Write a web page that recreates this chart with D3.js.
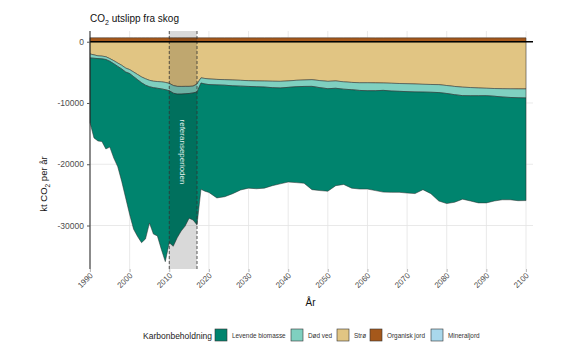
<!DOCTYPE html>
<html>
<head>
<meta charset="utf-8">
<script src="https://cdn.jsdelivr.net/npm/d3@7"></script>
<style>
  body { margin: 0; background: #fff; }
  text { font-family: "Liberation Sans", Arial, sans-serif; }
</style>
</head>
<body>
<div id="container"></div>
<script>
/* DATA */
const years = [
  1990, 1991, 1992, 1993, 1994, 1995, 1996, 1997, 1998, 1999,
  2000, 2001, 2002, 2003, 2004, 2005, 2006, 2007, 2008, 2009,
  2010, 2011, 2012, 2013, 2014, 2015, 2016, 2017, 2018, 2019, 2020,
  2022, 2024, 2026, 2028, 2030, 2032, 2034, 2036, 2038, 2040,
  2042, 2044, 2046, 2048, 2050, 2052, 2054, 2056, 2058, 2060,
  2062, 2064, 2066, 2068, 2070, 2072, 2074, 2076, 2078, 2080,
  2082, 2084, 2086, 2088, 2090, 2092, 2094, 2096, 2098, 2100
];

const levendeBiomasse = [
  -10550, -13000, -13450, -13500, -14600, -14000, -15400, -16370, -18350, -20550,
  -23000, -24900, -25600, -26100, -25100, -22250, -23900, -24100, -26200, -28070,
  -24800, -25000, -23450, -22350, -21600, -20350, -20730, -21700, -17350, -17500, -17600,
  -18450, -18200, -17600, -16950, -16600, -16650, -16500, -16000, -15650, -15450,
  -15650, -15800, -16860, -16800, -16730, -15900, -15550, -16070, -16100, -16050,
  -16300, -16610, -16530, -16480, -16550, -16590, -15930, -16550, -17700, -17970,
  -17550, -16900, -17180, -17490, -17500, -17100, -16780, -16700, -16800, -16750
];

const dodVed = [
  -650, -550, -450, -450, -450, -450, -500, -550, -600, -650,
  -650, -750, -850, -950, -1050, -1050, -1050, -1100, -1150, -1190,
  -1200, -1250, -1260, -1250, -1210, -1160, -1120, -1300, -850, -900, -920,
  -900, -900, -950, -950, -940, -950, -980, -1050, -1080, -1050,
  -1050, -1050, -1090, -1150, -1200, -1200, -1200, -1190, -1250, -1300,
  -1280, -1200, -1270, -1280, -1290, -1300, -1270, -1270, -1290, -1300,
  -1350, -1380, -1340, -1270, -1210, -1260, -1350, -1410, -1450, -1470
];

const stro = [
  -2000, -2150, -2300, -2350, -2450, -2750, -3100, -3480, -3850, -4300,
  -4550, -4950, -5350, -5750, -6050, -6300, -6450, -6500, -6550, -6640,
  -6800, -7150, -7290, -7300, -7290, -7290, -7250, -6900, -5900, -6000, -6080,
  -6150, -6200, -6250, -6300, -6360, -6400, -6420, -6450, -6470, -6400,
  -6300, -6250, -6200, -6350, -6470, -6400, -6550, -6640, -6700, -6700,
  -6720, -6740, -6780, -6820, -6860, -6900, -6950, -6980, -7010, -7150,
  -7300, -7420, -7480, -7550, -7600, -7640, -7670, -7690, -7700, -7710
];

const organiskJord = [
  620, 620, 620, 620, 620, 620, 620, 620, 620, 620,
  620, 620, 620, 620, 620, 620, 620, 620, 620, 620,
  620, 620, 620, 620, 620, 620, 620, 620, 610, 610, 610,
  610, 610, 610, 610, 610, 610, 610, 610, 610, 610,
  610, 610, 610, 610, 610, 610, 610, 610, 610, 610,
  600, 600, 600, 600, 600, 600, 600, 600, 600, 600,
  600, 600, 600, 600, 600, 600, 600, 600, 600, 600
];

const mineraljord = [
  30, 30, 30, 30, 30, 30, 30, 30, 30, 30,
  30, 30, 30, 30, 30, 30, 30, 30, 30, 30,
  30, 30, 30, 30, 30, 30, 30, 30, 30, 30, 30,
  30, 30, 30, 30, 30, 30, 30, 30, 30, 30,
  30, 30, 30, 30, 30, 30, 30, 30, 30, 30,
  30, 30, 30, 30, 30, 30, 30, 30, 30, 30,
  30, 30, 30, 30, 30, 30, 30, 30, 30, 30
];

const legendLabels = ["Levende biomasse", "Død ved", "Strø", "Organisk jord", "Mineraljord"];
const colors = ["#00846e", "#7fd0c0", "#e1c583", "#a5581b", "#a9d8ec"];
const xTicks = [1990, 2000, 2010, 2020, 2030, 2040, 2050, 2060, 2070, 2080, 2090, 2100];
const yTicks = [0, -10000, -20000, -30000];
const refPeriod = [2010, 2017];

/* CONSTANTS */
const width = 571, height = 352;
const panel = {left: 90, right: 533, top: 31, bottom: 269};

const rows = years.map((yr, i) => ({
  year: yr,
  "Mineraljord": mineraljord[i],
  "Organisk jord": organiskJord[i],
  "Strø": stro[i],
  "Død ved": dodVed[i],
  "Levende biomasse": levendeBiomasse[i]
}));

const stackKeys = ["Mineraljord", "Organisk jord", "Strø", "Død ved", "Levende biomasse"];
const colorScale = d3.scaleOrdinal().domain(legendLabels).range(colors);

const xScale = d3.scaleLinear()
  .domain([1990, 2100])
  .range([panel.left, 526]);

const yScale = d3.scaleLinear()
  .domain([1750, -37100])
  .range([panel.top, panel.bottom]);

const svg = d3.select("#container")
  .append("svg")
  .attr("width", width)
  .attr("height", height);

// gridlines
svg.append("g")
  .selectAll("line")
  .data(xTicks)
  .join("line")
  .attr("x1", d => xScale(d)).attr("x2", d => xScale(d))
  .attr("y1", panel.top).attr("y2", panel.bottom + 3)
  .attr("stroke", "#e3e3e3").attr("stroke-width", 0.8);

svg.append("g")
  .selectAll("line")
  .data(yTicks)
  .join("line")
  .attr("x1", panel.left).attr("x2", panel.right)
  .attr("y1", d => yScale(d)).attr("y2", d => yScale(d))
  .attr("stroke", "#e3e3e3").attr("stroke-width", 0.8);

// stacked areas
const series = d3.stack()
  .keys(stackKeys)
  .offset(d3.stackOffsetDiverging)
  .order(d3.stackOrderNone)(rows);

const area = d3.area()
  .x(d => xScale(d.data.year))
  .y0(d => yScale(d[0]))
  .y1(d => yScale(d[1]));

svg.append("g")
  .selectAll("path")
  .data(series)
  .join("path")
  .attr("d", area)
  .attr("fill", d => colorScale(d.key))
  .attr("stroke", "#2b2b2b")
  .attr("stroke-width", 0.5);

// reference period
svg.append("rect")
  .attr("x", xScale(refPeriod[0]))
  .attr("width", xScale(refPeriod[1]) - xScale(refPeriod[0]))
  .attr("y", panel.top)
  .attr("height", panel.bottom - panel.top)
  .attr("fill", "#000")
  .attr("opacity", 0.15);

svg.append("g")
  .selectAll("line")
  .data(refPeriod)
  .join("line")
  .attr("x1", d => xScale(d)).attr("x2", d => xScale(d))
  .attr("y1", panel.top).attr("y2", panel.bottom)
  .attr("stroke", "#333").attr("stroke-width", 0.8)
  .attr("stroke-dasharray", "3,2");

svg.append("text")
  .attr("transform", `translate(${xScale(d3.mean(refPeriod)) - 3}, 152) rotate(90)`)
  .attr("text-anchor", "middle")
  .attr("font-size", 8)
  .attr("fill", "#e3efec")
  .text("referanseperioden");

// zero line
svg.append("line")
  .attr("x1", panel.left).attr("x2", panel.right)
  .attr("y1", yScale(0)).attr("y2", yScale(0))
  .attr("stroke", "#000").attr("stroke-width", 1.4);

// axes
const yAxis = d3.axisLeft(yScale).tickValues(yTicks).tickSize(3).tickFormat(d3.format("d"));
const yAxisGroup = svg.append("g")
  .attr("transform", `translate(${panel.left}, 0)`)
  .call(yAxis);
yAxisGroup.select(".domain").attr("d", `M0,${panel.top}V${panel.bottom}`).attr("stroke", "#222").attr("stroke-width", 1);
yAxisGroup.selectAll(".tick line").attr("stroke", "#555");
yAxisGroup.selectAll(".tick text")
  .attr("font-family", "Liberation Sans, Arial, sans-serif")
  .attr("font-size", 8.5).attr("fill", "#4d4d4d")
  .text(d => d === 0 ? "0" : "-" + Math.abs(d));

const xAxis = d3.axisBottom(xScale).tickValues(xTicks).tickSize(3).tickFormat(d3.format("d"));
const xAxisGroup = svg.append("g")
  .attr("transform", `translate(0, ${panel.bottom})`)
  .call(xAxis);
xAxisGroup.select(".domain").remove();
xAxisGroup.selectAll(".tick line").attr("stroke", "#bbb");
xAxisGroup.selectAll(".tick text")
  .attr("font-family", "Liberation Sans, Arial, sans-serif")
  .attr("font-size", 8).attr("fill", "#4d4d4d")
  .attr("text-anchor", "end")
  .attr("dy", null).attr("y", 0)
  .attr("transform", "translate(3, 7) rotate(-45)");

// titles
const title = svg.append("text")
  .attr("x", panel.left).attr("y", 22)
  .attr("font-size", 10).attr("fill", "#111");
title.append("tspan").text("CO");
title.append("tspan").attr("font-size", 7).attr("dy", 3).text("2");
title.append("tspan").attr("dy", -3).text(" utslipp fra skog");

const yLabel = svg.append("text")
  .attr("transform", "translate(47, 184) rotate(-90)")
  .attr("text-anchor", "middle")
  .attr("font-size", 9.5).attr("fill", "#111");
yLabel.append("tspan").text("kt CO");
yLabel.append("tspan").attr("font-size", 6.5).attr("dy", 3).text("2");
yLabel.append("tspan").attr("dy", -3).text(" per år");

svg.append("text")
  .attr("x", (panel.left + panel.right) / 2 - 1).attr("y", 306)
  .attr("text-anchor", "middle")
  .attr("font-size", 10).attr("fill", "#111")
  .text("År");

// legend
const legend = svg.append("g").attr("transform", "translate(0, 329)");
legend.append("text")
  .attr("x", 143).attr("y", 9.5)
  .attr("font-size", 8.5).attr("fill", "#222")
  .text("Karbonbeholdning");

const keyX = [215, 291, 337, 370, 431];
const item = legend.selectAll("g.item")
  .data(legendLabels)
  .join("g")
  .attr("class", "item")
  .attr("transform", (d, i) => `translate(${keyX[i]}, 0)`);
item.append("rect")
  .attr("width", 12).attr("height", 12)
  .attr("fill", d => colorScale(d))
  .attr("stroke", "#333").attr("stroke-width", 0.6);
item.append("text")
  .attr("x", 17).attr("y", 8.5)
  .attr("font-size", 6.4).attr("fill", "#333")
  .text(d => d);
</script>
</body>
</html>
